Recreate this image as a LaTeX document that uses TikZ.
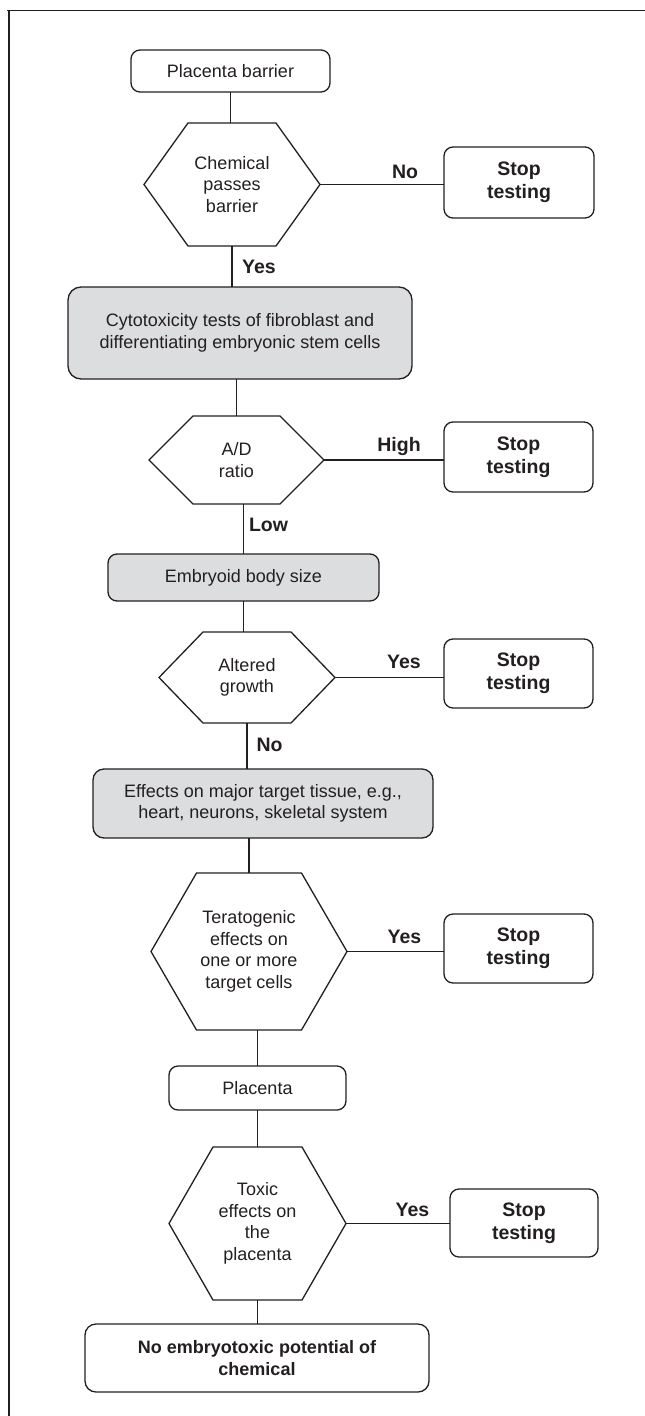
\documentclass[tikz,border=0pt]{standalone}
\usepackage{fontspec}
\setmainfont{Liberation Sans}
\definecolor{ink}{RGB}{35,31,32}
\definecolor{boxgrey}{RGB}{220,221,223}
% outline of a decision hexagon drawn around a named node
\newcommand\hexoutline[2]{%
  \draw[hexline] (#1.west) -- ([xshift=#2]#1.north west) -- ([xshift=-#2]#1.north east)
    -- (#1.east) -- ([xshift=-#2]#1.south east) -- ([xshift=#2]#1.south west) -- cycle;}
\begin{document}
\begin{tikzpicture}[x=1pt,y=-1pt,
  every node/.style={inner sep=0pt, outer sep=0pt},
  txt/.style={font=\fontsize{18}{21.6}\selectfont, text=ink, align=center},
  boxw/.style={txt, draw=ink, line width=1.3pt, rounded corners=9pt, fill=white},
  boxg/.style={boxw, fill=boxgrey, rounded corners=13pt},
  stopbox/.style={boxw, font=\fontsize{19.5}{23}\selectfont\bfseries,
                  minimum width=149pt, minimum height=70pt},
  hexbox/.style={txt},
  lbl/.style={font=\fontsize{19.5}{23}\selectfont\bfseries, text=ink},
  link/.style={draw=ink, line width=1.3pt},
  hexline/.style={draw=ink, line width=1.3pt, line join=miter}
]
\useasboundingbox (0,0) rectangle (645,1416);

% frame
\coordinate (fa) at (7,10.5);
\coordinate (fb) at (645,10.5);
\coordinate (fc) at (9,1416);
\draw[ink, line width=1.7pt] (fb) -- (fa -| fb) -- (fa);
\draw[ink, line width=1.7pt] (fc |- fa) -- (fc);

% main column
\node[boxw, minimum width=199pt, minimum height=42pt] (pb) at (230.5,71) {Placenta barrier};
\node[hexbox, minimum width=176pt, minimum height=123pt] (q1) at (232,184.5) {Chemical\\passes\\barrier};
\node[boxg, minimum width=344pt, minimum height=92pt] (cy) at (240,333)
  {Cytotoxicity tests of fibroblast and\\differentiating embryonic stem cells};
\node[hexbox, minimum width=175pt, minimum height=88pt] (q2) at (236.5,460) {A/D\\ratio};
\node[boxg, minimum width=271pt, minimum height=47pt, rounded corners=9pt] (eb) at (243.5,577.5) {Embryoid body size};
\node[hexbox, minimum width=176pt, minimum height=91pt] (q3) at (247,677.5) {Altered\\growth};
\node[boxg, minimum width=340pt, minimum height=69pt, rounded corners=11pt] (ef) at (263,803.5)
  {Effects on major target tissue, e.g.,\\heart, neurons, skeletal system};
\node[hexbox, minimum width=196pt, minimum height=157pt] (q4) at (249,951.5)
  {Teratogenic\\effects on\\one or more\\target cells};
\node[boxw, minimum width=177pt, minimum height=44pt] (pl) at (257.5,1088) {Placenta};
\node[hexbox, minimum width=177pt, minimum height=153pt] (q5) at (257.5,1223.5)
  {Toxic\\effects on\\the\\placenta};
\node[boxw, font=\fontsize{18}{21.6}\selectfont\bfseries, minimum width=344pt, minimum height=68pt,
      rounded corners=11pt] (fin) at (257,1358)
  {No embryotoxic potential of\\chemical};

\hexoutline{q1}{44}
\hexoutline{q2}{44}
\hexoutline{q3}{44}
\hexoutline{q4}{45.5}
\hexoutline{q5}{44}

% stop boxes
\node[stopbox, minimum width=150pt, minimum height=71pt] (s1) at (519,182.5) {Stop\\testing};
\node[stopbox] (s2) at (518.5,457) {Stop\\testing};
\node[stopbox, minimum height=69pt] (s3) at (518.5,673.5) {Stop\\testing};
\node[stopbox, minimum height=69pt] (s4) at (518.5,948.5) {Stop\\testing};
\node[stopbox, minimum width=148pt, minimum height=68pt] (s5) at (524,1223) {Stop\\testing};

% vertical links
\draw[link] (pb.south) -- (pb.south |- q1.north);
\draw[link] (q1.south) -- (q1.south |- cy.north);
\draw[link] (q2.north |- cy.south) -- (q2.north);
\draw[link] (eb.north |- q2.south) -- (eb.north);
\draw[link] (eb.south) -- (eb.south |- q3.north);
\draw[link] (q3.south) -- (q3.south |- ef.north);
\draw[link] (q4.north |- ef.south) -- (q4.north);
\draw[link] (pl.north |- q4.south) -- (pl.north);
\draw[link] (pl.south) -- (pl.south |- q5.north);
\draw[link] (q5.south) -- (q5.south |- fin.north);

% horizontal links
\draw[link] (q1.east) -- (q1.east -| s1.west);
\draw[link] (q2.east) -- (q2.east -| s2.west);
\draw[link] (q3.east) -- (q3.east -| s3.west);
\draw[link] (q4.east) -- (q4.east -| s4.west);
\draw[link] (q5.east) -- (q5.east -| s5.west);

% branch labels
\node[lbl] (l1) at (405,172) {No};
\node[lbl] (l2) at (259,267) {Yes};
\node[lbl] (l3) at (399,446) {High};
\node[lbl] (l4) at (268.5,525) {Low};
\node[lbl] (l5) at (404,662) {Yes};
\node[lbl] (l6) at (269.5,745) {No};
\node[lbl] (l7) at (404.5,937) {Yes};
\node[lbl] (l8) at (412.5,1210) {Yes};
\end{tikzpicture}
\end{document}
